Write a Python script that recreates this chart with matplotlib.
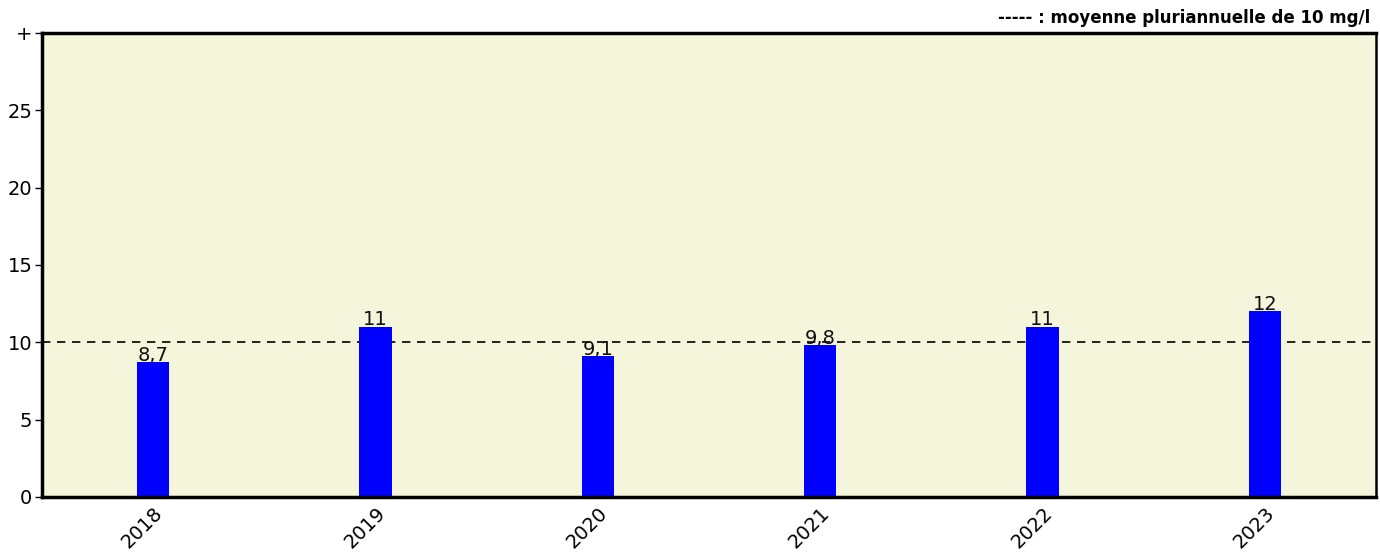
import matplotlib.pyplot as plt

years = ["2018", "2019", "2020", "2021", "2022", "2023"]
values = [8.7, 11, 9.1, 9.8, 11, 12]
value_labels = ["8,7", "11", "9,1", "9,8", "11", "12"]
mean_value = 10
y_ticks = [0, 5, 10, 15, 20, 25, 30]
y_tick_labels = ["0", "5", "10", "15", "20", "25", "+"]

plt.rcParams["font.family"] = ["Verdana", "DejaVu Sans"]

fig = plt.figure(figsize=(13.8, 5.56), dpi=100)
ax = fig.add_axes([42 / 1380, 1 - 497 / 556, 1334 / 1380, 464 / 556])
ax.set_facecolor("#f5f5dc")

x = range(len(years))
ax.bar(x, values, width=0.145, color="#0000ff", zorder=2)
for xi, v, lab in zip(x, values, value_labels):
    ax.text(xi, v - 0.15, lab, ha="center", va="bottom", fontsize=14, color="#111111", zorder=3)

ax.axhline(mean_value, color="black", linestyle=(0, (5, 4)), linewidth=1.2, zorder=1)

ax.set_xlim(-0.5, len(years) - 0.5)
ax.set_ylim(0, 30)
ax.set_yticks(y_ticks)
ax.set_yticklabels(y_tick_labels, fontsize=14)
ax.set_xticks(list(x))
ax.set_xticklabels(years, fontsize=14, rotation=45, ha="right", rotation_mode="anchor")
ax.tick_params(axis="x", length=0, pad=5)
ax.tick_params(axis="y", length=5, width=1, pad=2)

for side in ["left", "bottom", "top"]:
    ax.spines[side].set_linewidth(2.5)
ax.spines["right"].set_linewidth(1.8)

fig.text(1370 / 1380, 1 - 18 / 556, "----- : moyenne pluriannuelle de 10 mg/l",
         ha="right", va="center", fontsize=12, fontweight="bold")

fig.savefig("out.png", dpi=100)
